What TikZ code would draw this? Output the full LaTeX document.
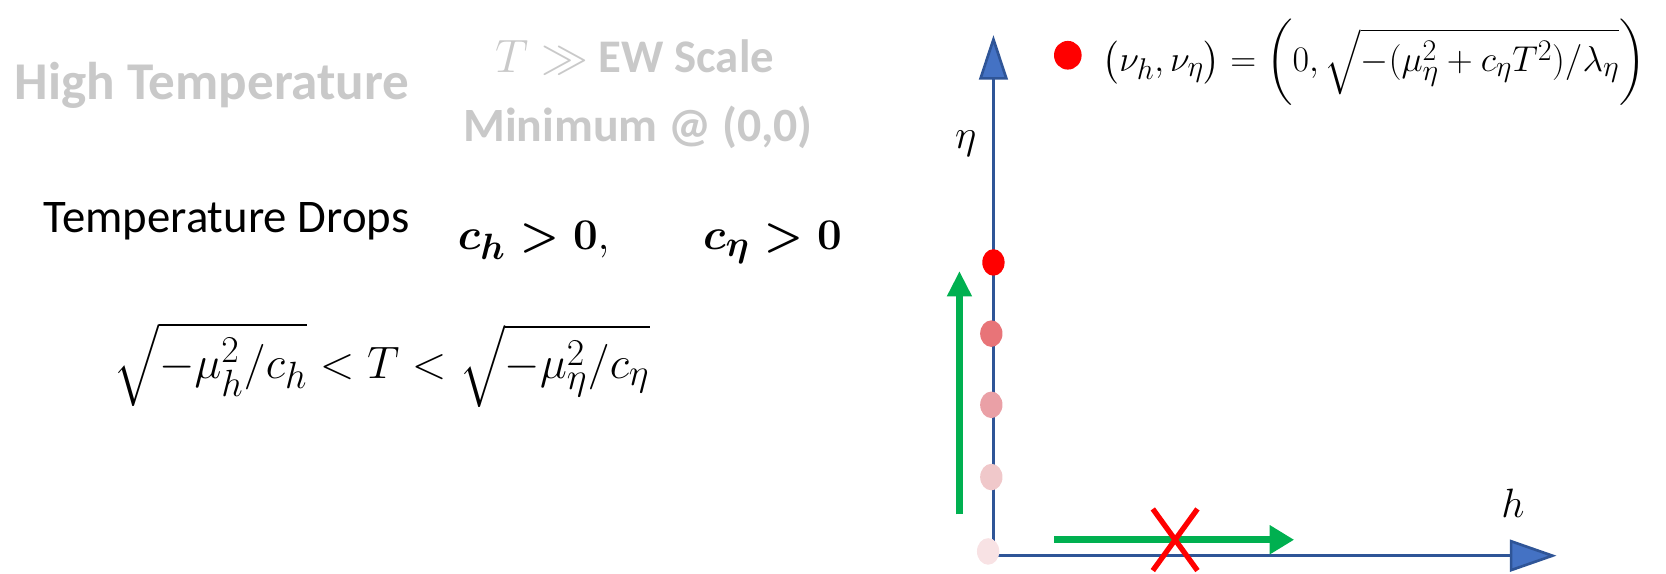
\documentclass[tikz,border=0pt]{standalone}
\usepackage{amsmath}
\usepackage{graphicx}
\usepackage[no-math]{fontspec}
\setmainfont{Carlito}
\usetikzlibrary{arrows.meta,shapes.geometric}
\newcommand{\smath}[2]{\scalebox{#1}{\fontsize{24.88}{30}\selectfont$#2$}}
\definecolor{ltgray}{RGB}{201,201,201}
\definecolor{axline}{RGB}{47,85,151}
\definecolor{axfill}{RGB}{68,114,196}
\definecolor{grn}{RGB}{0,176,80}
\definecolor{dotA}{RGB}{255,0,0}
\definecolor{dotB}{RGB}{232,116,120}
\definecolor{dotC}{RGB}{234,160,166}
\definecolor{dotD}{RGB}{240,200,202}
\definecolor{dotE}{RGB}{248,226,228}
\begin{document}
\begin{tikzpicture}[x=1pt,y=-1pt,
  txt/.style={anchor=base west,inner sep=0pt,outer sep=0pt},
  dim/.style={txt,text=ltgray,font=\fontsize{50}{56}\selectfont\bfseries},
  axis/.style={draw=axline,line width=2.5pt},
  dotn/.style={ellipse,inner sep=0pt,minimum width=21pt,minimum height=25pt,draw=none},
  garrow/.style={draw=grn,line width=7pt},
]
\useasboundingbox (0,0) rectangle (1568,540);
% left texts
\node[dim] (ht) at (14,94) {High Temperature};
\node[dim,font=\fontsize{44}{50}\selectfont\bfseries] (ew) at (466,68) {\smath{1.77}{T\gg}\hspace{10pt}EW Scale};
\node[dim,font=\fontsize{45}{52}\selectfont\bfseries] (mn) at (436,133) {Minimum @ (0,0)};
\node[txt,font=\fontsize{44}{50}\selectfont] (td) at (41,219) {Temperature Drops};
\node[txt] (cc) at (431,235) {\smath{1.66}{\boldsymbol{c_h>0},}\hspace{88pt}\smath{1.66}{\boldsymbol{c_\eta>0}}};
\node[txt] (sq) at (107,356) {\smath{1.72}{\sqrt{-\mu_h^2/c_h}<T<\sqrt{-\mu_\eta^2/c_\eta}}};
% axes
\coordinate (O) at (935,523);
\coordinate (ytip) at (935,33);
\coordinate (xtip) at (1465,523);
\draw[axis,-{Triangle[length=42pt,width=27pt,fill=axfill]}] (O) -- (ytip);
\draw[axis,-{Triangle[length=44pt,width=30pt,fill=axfill]}] (O) -- (xtip);
\node[txt] (eta) at (899,140) {\smath{1.55}{\eta}};
\node[txt] (hl) at (1413,487) {\smath{1.55}{h}};
% dots
\node[dotn,fill=dotA] (d1) at (935,247) {};
\node[dotn,fill=dotB] (d2) at (933,314) {};
\node[dotn,fill=dotC] (d3) at (933,381) {};
\node[dotn,fill=dotD] (d4) at (933,449) {};
\node[dotn,fill=dotE] (d5) at (930,519) {};
% green arrows
\coordinate (gv1) at (903,484);
\coordinate (gv2) at (903,255);
\draw[garrow,line width=6pt,-{Triangle[length=24pt,width=22pt]}] (gv1) -- (gv2);
\coordinate (gh1) at (992,508);
\coordinate (gh2) at (1218,508);
\draw[garrow,-{Triangle[length=23pt,width=26pt]}] (gh1) -- (gh2);
% red cross
\coordinate (xa) at (1085,479);
\coordinate (xb) at (1127,537);
\coordinate (xc) at (1127,479);
\coordinate (xd) at (1085,537);
\draw[red,line width=5pt] (xa) -- (xb);
\draw[red,line width=5pt] (xc) -- (xd);
% legend
\node[dotn,fill=dotA,minimum width=26pt,minimum height=27pt] (ld) at (1005,52) {};
\node[txt] (leq) at (1038,67) {\smath{1.36}{\bigl(\nu_h,\nu_\eta\bigr)=\biggl(0,\sqrt{-(\mu_\eta^2+c_\eta T^2)/\lambda_\eta}\biggr)}};
\end{tikzpicture}
\end{document}
